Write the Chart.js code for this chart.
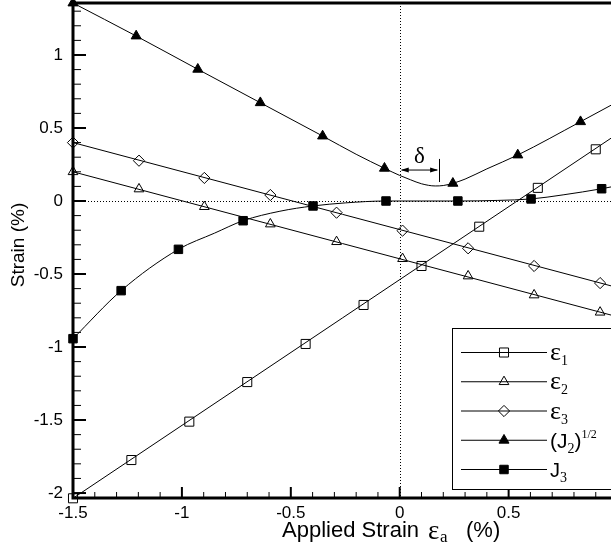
<!DOCTYPE html>
<html><head><meta charset="utf-8">
<script src="https://cdn.jsdelivr.net/npm/chart.js@4/dist/chart.umd.min.js"></script>
<style>html,body{margin:0;padding:0;background:#fff;overflow:hidden}canvas{display:block}</style>
</head><body>
<canvas id="c" width="611" height="554"></canvas>
<script>
// ---- tick labels ----
const xTickLabels = [-1.5, -1, -0.5, 0, 0.5];
const yTickLabels = [1, 0.5, 0, -0.5, -1, -1.5, -2];

// ---- eps1 (open squares) ----
const e1MarkX = [-1.5, -1.232, -0.966, -0.70, -0.432, -0.166, 0.1, 0.365, 0.634, 0.9];
const e1MarkY = [-2.036, -1.774, -1.511, -1.24, -0.979, -0.712, -0.445, -0.176, 0.09, 0.354];
const e1LineX = [-1.5, 1.0];
const e1LineY = [-2.036, 0.46];

// ---- eps2 (open triangles) ----
const e2MarkX = [-1.5, -1.197, -0.897, -0.594, -0.29, 0.013, 0.314, 0.617, 0.92];
const e2MarkY = [0.2, 0.082, -0.039, -0.158, -0.279, -0.395, -0.514, -0.644, -0.762];
const e2LineX = [-1.5, 1.0];
const e2LineY = [0.2, -0.793];

// ---- eps3 (open diamonds) ----
const e3MarkX = [-1.5, -1.197, -0.897, -0.594, -0.29, 0.013, 0.314, 0.617, 0.92];
const e3MarkY = [0.4, 0.276, 0.158, 0.041, -0.08, -0.203, -0.324, -0.445, -0.562];
const e3LineX = [-1.5, 1.0];
const e3LineY = [0.4, -0.593];

// ---- (J2)^1/2 (filled triangles) ----
const j2MarkX = [-1.5, -1.21, -0.927, -0.64, -0.354, -0.07, 0.244, 0.542, 0.83];
const j2MarkY = [1.356, 1.13, 0.902, 0.673, 0.445, 0.224, 0.121, 0.315, 0.543];
const j2LineX = [-1.5, -1.21, -0.927, -0.64, -0.354, -0.2, -0.07, 0.0, 0.05, 0.1, 0.163, 0.2, 0.244, 0.3, 0.4, 0.542, 0.83, 1.0];
const j2LineY = [1.356, 1.13, 0.902, 0.673, 0.445, 0.32, 0.224, 0.175, 0.145, 0.118, 0.103, 0.106, 0.121, 0.15, 0.22, 0.315, 0.543, 0.68];

// ---- J3 (filled squares) ----
const j3MarkX = [-1.5, -1.279, -1.016, -0.719, -0.398, -0.063, 0.267, 0.603, 0.927];
const j3MarkY = [-0.943, -0.614, -0.331, -0.135, -0.034, 0.0, 0.0, 0.014, 0.084];
const j3LineX = [-1.5, -1.279, -1.016, -0.85, -0.719, -0.55, -0.398, -0.25, -0.063, 0.1, 0.267, 0.45, 0.603, 0.75, 0.927, 1.0];
const j3LineY = [-0.943, -0.614, -0.331, -0.22, -0.135, -0.07, -0.034, -0.013, 0.0, 0.0, 0.0, 0.004, 0.014, 0.042, 0.084, 0.105];

// ---- delta annotation (data units) ----
const deltaFromX = 0, deltaToX = 0.181, deltaArrowY = 0.212, deltaBarTopY = 0.288, deltaBarBotY = 0.13;
const deltaTextX = 0.09, deltaTextY = 0.30;

const SANS = '"Liberation Sans", Arial, Helvetica, sans-serif';
const SERIF = '"Liberation Serif", "Times New Roman", serif';

function pts(xs, ys) { return xs.map((x, i) => ({ x: x, y: ys[i] })); }

const markerStyles = [
  { style: 'rect', radius: 6.4, fill: 'rgba(0,0,0,0)' },
  { style: 'triangle', radius: 5.6, fill: 'rgba(0,0,0,0)' },
  { style: 'rectRot', radius: 5.6, fill: 'rgba(0,0,0,0)' },
  { style: 'triangle', radius: 5.8, fill: '#000' },
  { style: 'rect', radius: 6.0, fill: '#000' }
];

const series = [
  [e1MarkX, e1MarkY, e1LineX, e1LineY, false],
  [e2MarkX, e2MarkY, e2LineX, e2LineY, false],
  [e3MarkX, e3MarkY, e3LineX, e3LineY, false],
  [j2MarkX, j2MarkY, j2LineX, j2LineY, true],
  [j3MarkX, j3MarkY, j3LineX, j3LineY, true]
];

const datasets = [];
series.forEach((s, i) => {
  datasets.push({
    type: 'line', data: pts(s[2], s[3]), borderColor: '#000', borderWidth: 1,
    pointRadius: 0, fill: false, order: 2, clip: false,
    cubicInterpolationMode: s[4] ? 'monotone' : 'default', tension: 0
  });
  const m = markerStyles[i];
  datasets.push({
    type: 'line', data: pts(s[0], s[1]), showLine: false, order: 1, clip: false,
    pointStyle: m.style, pointRadius: m.radius, pointBorderWidth: 1,
    pointBorderColor: '#000', pointBackgroundColor: m.fill
  });
});

function drawRich(ctx, parts, x, y) {
  let cx = x;
  parts.forEach(p => {
    ctx.font = p.font;
    ctx.fillText(p.t, cx + (p.dx || 0), y + (p.dy || 0));
    cx += ctx.measureText(p.t).width + (p.dx || 0);
  });
}

const legendItems = [
  [{ t: 'ε', font: '26px ' + SERIF }, { t: '1', font: '14px ' + SERIF, dy: 5 }],
  [{ t: 'ε', font: '26px ' + SERIF }, { t: '2', font: '14px ' + SERIF, dy: 5 }],
  [{ t: 'ε', font: '26px ' + SERIF }, { t: '3', font: '14px ' + SERIF, dy: 5 }],
  [{ t: '(J', font: '21px ' + SANS }, { t: '2', font: '14px ' + SERIF, dy: 5 }, { t: ')', font: '21px ' + SANS }, { t: '1/2', font: '12px ' + SERIF, dy: -10 }],
  [{ t: 'J', font: '20px ' + SANS }, { t: '3', font: '14px ' + SERIF, dy: 5 }]
];

const decor = {
  id: 'decor',
  beforeDatasetsDraw(chart) {
    const { ctx, chartArea: a, scales: { x, y } } = chart;
    ctx.save();
    ctx.strokeStyle = '#000'; ctx.lineWidth = 1; ctx.setLineDash([1, 2]);
    const y0 = Math.round(y.getPixelForValue(0)) + 0.5;
    ctx.beginPath(); ctx.moveTo(a.left, y0); ctx.lineTo(a.right, y0); ctx.stroke();
    const x0 = Math.round(x.getPixelForValue(0)) + 0.5;
    ctx.beginPath(); ctx.moveTo(x0, a.top); ctx.lineTo(x0, a.bottom); ctx.stroke();
    ctx.restore();
  },
  afterDatasetsDraw(chart) {
    const { ctx, chartArea: a, scales: { x, y } } = chart;
    ctx.save();
    ctx.strokeStyle = '#000'; ctx.fillStyle = '#000';
    // ticks
    for (let k = -20; k <= 13; k++) {
      const py = y.getPixelForValue(k / 10);
      const major = k % 5 === 0;
      ctx.lineWidth = major ? 2 : 1;
      ctx.beginPath(); ctx.moveTo(a.left, py); ctx.lineTo(a.left + (major ? 13 : 8), py); ctx.stroke();
    }
    for (let k = -15; k <= 9; k++) {
      const px = x.getPixelForValue(k / 10);
      const major = k % 5 === 0;
      ctx.lineWidth = major ? 2 : 1;
      ctx.beginPath(); ctx.moveTo(px, a.bottom); ctx.lineTo(px, a.bottom - (major ? 11 : 6)); ctx.stroke();
    }
    // frame
    ctx.lineWidth = 3; ctx.lineCap = 'square';
    ctx.beginPath();
    ctx.moveTo(a.right + 5, a.top); ctx.lineTo(a.left, a.top); ctx.lineTo(a.left, a.bottom); ctx.lineTo(a.right + 5, a.bottom);
    ctx.stroke();
    ctx.lineCap = 'butt';
    // delta annotation
    const ax0 = x.getPixelForValue(deltaFromX), ax1 = x.getPixelForValue(deltaToX), ay = y.getPixelForValue(deltaArrowY);
    ctx.lineWidth = 1;
    ctx.beginPath(); ctx.moveTo(ax0 + 2, ay); ctx.lineTo(ax1 - 2, ay); ctx.stroke();
    ctx.beginPath(); ctx.moveTo(ax0 + 1, ay); ctx.lineTo(ax0 + 9, ay - 2.5); ctx.lineTo(ax0 + 9, ay + 2.5); ctx.closePath(); ctx.fill();
    ctx.beginPath(); ctx.moveTo(ax1 - 1, ay); ctx.lineTo(ax1 - 9, ay - 2.5); ctx.lineTo(ax1 - 9, ay + 2.5); ctx.closePath(); ctx.fill();
    ctx.beginPath(); ctx.moveTo(Math.round(ax1) + 0.5, y.getPixelForValue(deltaBarTopY)); ctx.lineTo(Math.round(ax1) + 0.5, y.getPixelForValue(deltaBarBotY)); ctx.stroke();
    ctx.font = '23px ' + SERIF; ctx.textAlign = 'center'; ctx.textBaseline = 'middle';
    ctx.fillText('δ', x.getPixelForValue(deltaTextX), y.getPixelForValue(deltaTextY));
    // legend box
    ctx.fillStyle = '#fff';
    ctx.fillRect(452, 328, 200, 161);
    ctx.strokeStyle = '#000'; ctx.lineWidth = 1;
    ctx.strokeRect(452.5, 328.5, 200, 161);
    ctx.fillStyle = '#000';
    legendItems.forEach((parts, i) => {
      const ry = 352 + i * 29.25;
      ctx.lineWidth = 1;
      ctx.beginPath(); ctx.moveTo(461, ry + 0.5); ctx.lineTo(547, ry + 0.5); ctx.stroke();
      const m = markerStyles[i];
      ctx.fillStyle = m.fill; ctx.strokeStyle = '#000';
      Chart.helpers.drawPoint(ctx, { pointStyle: m.style, radius: m.radius, rotation: 0, borderWidth: 1 }, 504, ry + 0.5);
      ctx.fillStyle = '#000';
      ctx.textAlign = 'left'; ctx.textBaseline = 'alphabetic';
      drawRich(ctx, parts, 550, ry + 8);
    });
    // axis titles
    ctx.textAlign = 'left'; ctx.textBaseline = 'alphabetic';
    ctx.font = '22px ' + SANS;
    const w1 = ctx.measureText('Applied Strain').width;
    ctx.fillText('Applied Strain', 419 - w1, 537);
    ctx.font = '27px ' + SERIF; ctx.fillText('ε', 428, 539);
    ctx.font = '17px ' + SERIF; ctx.fillText('a', 440, 542);
    ctx.font = '22px ' + SANS; ctx.fillText('(%)', 466, 537);
    ctx.save();
    ctx.translate(24, 245); ctx.rotate(-Math.PI / 2);
    ctx.textAlign = 'center'; ctx.font = '19px ' + SANS;
    ctx.fillText('Strain (%)', 0, 0);
    ctx.restore();
    ctx.restore();
  }
};

new Chart(document.getElementById('c'), {
  data: { datasets: datasets },
  options: {
    responsive: false, animation: false, devicePixelRatio: 1, events: [],
    layout: { padding: { top: 3, left: 0, right: 0, bottom: 0 }, autoPadding: false },
    plugins: { legend: { display: false }, tooltip: { enabled: false } },
    scales: {
      x: {
        type: 'linear', min: -1.5, max: 0.97,
        grid: { display: false, drawTicks: false }, border: { display: false },
        ticks: { color: '#000', font: { family: SANS, size: 17 }, padding: 5, maxRotation: 0, autoSkip: false,
                 callback: v => String(v) },
        afterBuildTicks: s => { s.ticks = xTickLabels.map(v => ({ value: v })); },
        afterFit: s => { s.height = 56; s.paddingLeft = 0; s.paddingRight = 0; s.paddingTop = 0; s.paddingBottom = 0; }
      },
      y: {
        type: 'linear', min: -2.034, max: 1.356,
        grid: { display: false, drawTicks: false }, border: { display: false },
        ticks: { color: '#000', font: { family: SANS, size: 17 }, padding: 10, autoSkip: false,
                 callback: v => String(v) },
        afterBuildTicks: s => { s.ticks = yTickLabels.map(v => ({ value: v })); },
        afterFit: s => { s.width = 73; s.paddingTop = 0; s.paddingBottom = 0; s.paddingLeft = 0; s.paddingRight = 0; }
      }
    }
  },
  plugins: [decor]
});
</script>
</body></html>
